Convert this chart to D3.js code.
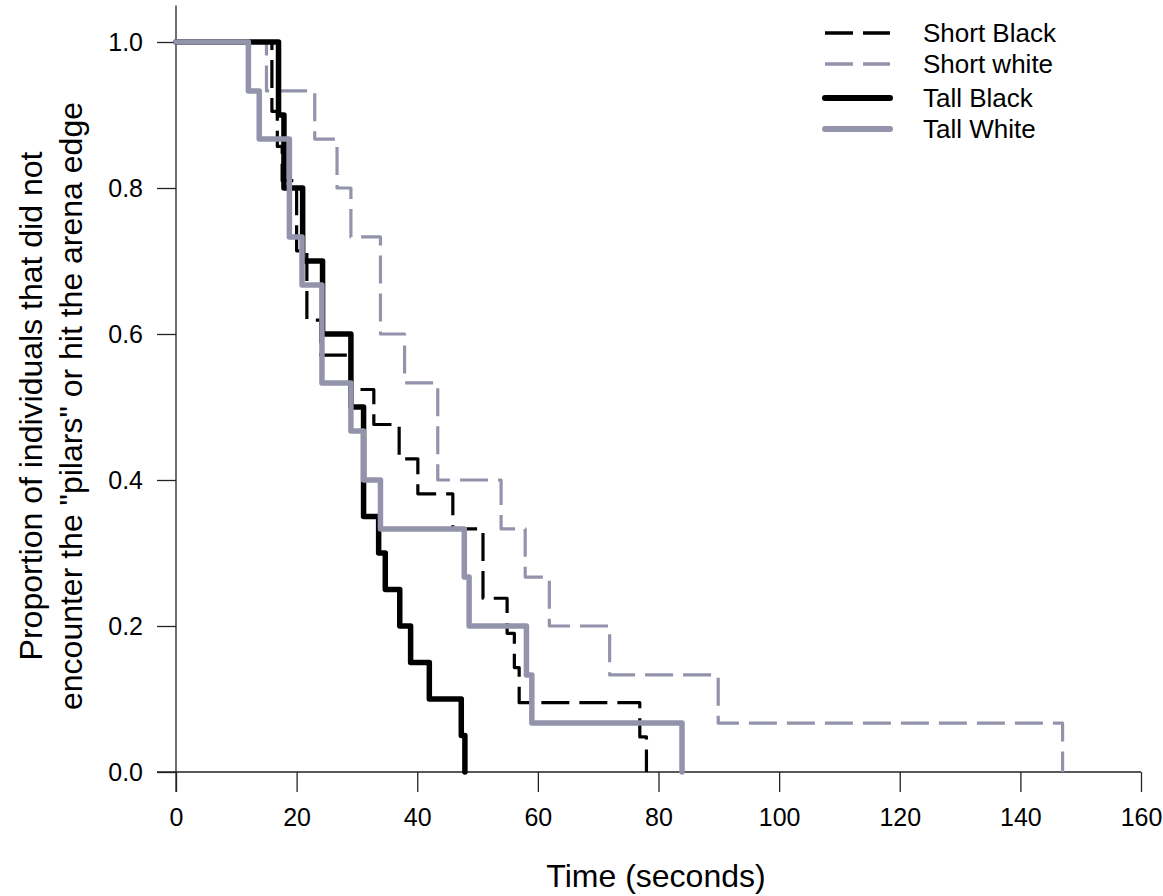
<!DOCTYPE html>
<html>
<head>
<meta charset="utf-8">
<script src="https://cdn.jsdelivr.net/npm/d3@7"></script>
<style>
  body { margin: 0; background: #fff; }
  svg { display: block; font-family: "Liberation Sans", Arial, sans-serif; }
</style>
</head>
<body>
<svg id="chart" width="1163" height="896"></svg>
<script>
// ---- data (time in seconds, proportion remaining) ----
const shortBlackT = [0, 15.9, 16.8, 17.6, 20.0, 21.7, 24.0, 29.0, 32.8, 37.0, 40.1, 45.9, 50.9, 54.9, 56.1, 56.9, 76.9, 78.0];
const shortBlackS = [1, 0.905, 0.857, 0.810, 0.714, 0.619, 0.571, 0.524, 0.476, 0.429, 0.381, 0.333, 0.238, 0.190, 0.143, 0.095, 0.048, 0];

const shortWhiteT = [0, 15.0, 23.0, 26.7, 29.0, 33.9, 37.9, 43.4, 53.9, 57.9, 61.9, 71.9, 89.9, 147.0];
const shortWhiteS = [1, 0.933, 0.867, 0.8, 0.733, 0.6, 0.533, 0.4, 0.333, 0.267, 0.2, 0.133, 0.067, 0];

const tallBlackT = [0, 17.0, 17.9, 21.0, 24.3, 29.0, 31.1, 33.6, 34.7, 37.1, 38.9, 42.0, 47.3, 47.9];
const tallBlackS = [1, 0.9, 0.8, 0.7, 0.6, 0.5, 0.35, 0.3, 0.25, 0.2, 0.15, 0.1, 0.05, 0];

const tallWhiteT = [0, 12.0, 13.8, 18.8, 20.9, 24.2, 29.0, 31.1, 33.9, 47.8, 48.6, 58.1, 59.0, 83.9];
const tallWhiteS = [1, 0.933, 0.867, 0.733, 0.667, 0.533, 0.467, 0.4, 0.333, 0.267, 0.2, 0.133, 0.067, 0];

const seriesNames = ["Short Black", "Short white", "Tall Black", "Tall White"];
const xTicks = [0, 20, 40, 60, 80, 100, 120, 140, 160];
const yTicks = [0.0, 0.2, 0.4, 0.6, 0.8, 1.0];
const xTitle = "Time (seconds)";
const yTitleLines = ["Proportion of individuals that did not", "encounter the \"pilars\" or hit the arena edge"];

// ---- styles ----
const GRAY = "#9393ac";
const styles = [
  { color: "#000", width: 3.2, dash: "28,10" },
  { color: GRAY,   width: 3.2, dash: "28,10" },
  { color: "#000", width: 5.5, dash: null },
  { color: GRAY,   width: 5.5, dash: null }
];
const seriesData = [
  shortBlackT.map((t, i) => [t, shortBlackS[i]]),
  shortWhiteT.map((t, i) => [t, shortWhiteS[i]]),
  tallBlackT.map((t, i) => [t, tallBlackS[i]]),
  tallWhiteT.map((t, i) => [t, tallWhiteS[i]])
];

const svg = d3.select("#chart");
const x = d3.scaleLinear().domain([0, 160]).range([176, 1141]);
const y = d3.scaleLinear().domain([0, 1]).range([772, 42]);

// axes
const axisColor = "#222";
const xAxis = svg.append("g").attr("transform", "translate(0,772)")
  .call(d3.axisBottom(x).tickValues(xTicks).tickFormat(d3.format("d")).tickSize(20).tickPadding(16));
const yAxis = svg.append("g").attr("transform", "translate(176,0)")
  .call(d3.axisLeft(y).tickValues(yTicks).tickFormat(d3.format(".1f")).tickSize(19).tickPadding(14));
[xAxis, yAxis].forEach(g => {
  g.select(".domain").remove();
  g.selectAll(".tick line").attr("stroke", axisColor).attr("stroke-width", 1.3);
  g.selectAll(".tick text").attr("fill", "#000").style("font-size", "25px")
    .style("font-family", "'Liberation Sans', Arial, sans-serif");
});
// axis lines
svg.append("line").attr("x1", 157).attr("x2", x(160)).attr("y1", 772).attr("y2", 772)
  .attr("stroke", axisColor).attr("stroke-width", 1.3);
svg.append("line").attr("x1", 176).attr("x2", 176).attr("y1", y(1.05)).attr("y2", 792)
  .attr("stroke", axisColor).attr("stroke-width", 1.3);

// curves
const line = d3.line().x(d => x(d[0])).y(d => y(d[1])).curve(d3.curveStepAfter);
seriesData.forEach((data, i) => {
  const s = styles[i];
  svg.append("path").datum(data)
    .attr("d", line)
    .attr("fill", "none")
    .attr("stroke", s.color)
    .attr("stroke-width", s.width)
    .attr("stroke-dasharray", s.dash)
    .attr("stroke-linejoin", "round")
    .attr("stroke-linecap", s.dash ? "butt" : "round");
});

// legend
const legendY = [33, 64, 98, 129];
seriesNames.forEach((name, i) => {
  const s = styles[i];
  svg.append("line").attr("x1", 825).attr("x2", 890)
    .attr("y1", legendY[i]).attr("y2", legendY[i])
    .attr("stroke", s.color).attr("stroke-width", s.width + 0.5)
    .attr("stroke-dasharray", s.dash)
    .attr("stroke-linecap", s.dash ? "butt" : "round");
  svg.append("text").attr("x", 923).attr("y", legendY[i] + 9)
    .attr("fill", "#000").style("font-size", "26px").text(name);
});

// titles
svg.append("text").attr("x", 656).attr("y", 887).attr("text-anchor", "middle")
  .attr("fill", "#000").style("font-size", "32px").text(xTitle);
yTitleLines.forEach((t, i) => {
  svg.append("text")
    .attr("transform", `translate(${42 + i * 40},406) rotate(-90)`)
    .attr("text-anchor", "middle").attr("fill", "#000")
    .style("font-size", "32px").text(t);
});
</script>
</body>
</html>
